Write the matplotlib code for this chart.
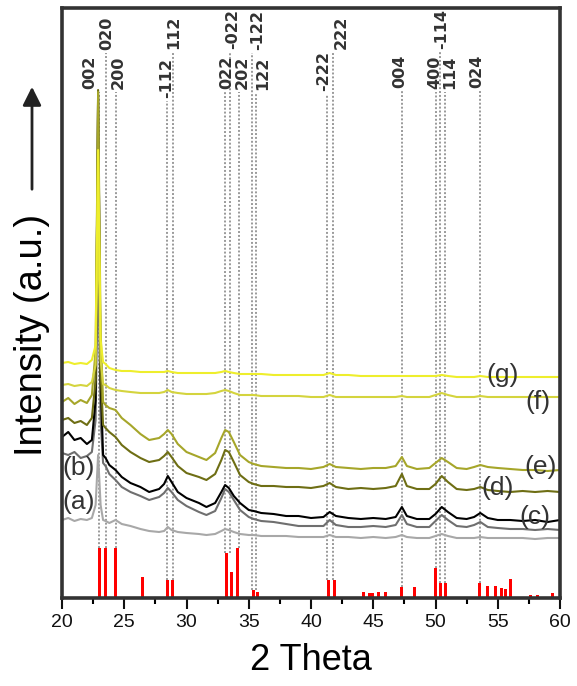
import matplotlib
matplotlib.use("Agg")
import matplotlib.pyplot as plt
from matplotlib.ticker import MultipleLocator
import numpy as np

plt.rcParams['font.family'] = ['Liberation Sans', 'DejaVu Sans']

# 2 theta positions shared by all patterns
two_theta = [20, 20.5, 21, 21.5, 22, 22.4, 22.7, 22.9, 23.1, 23.3, 23.5, 23.8, 24.3, 24.8,
             25.5, 26.3, 27.0, 27.8, 28.2, 28.5, 28.8, 29.3, 30.0, 31.0, 31.6, 32.3, 32.8,
             33.1, 33.4, 33.8, 34.3, 35.0, 35.4, 36.0, 37.0, 38.0, 39.0, 40.0, 41.0, 41.5,
             42.0, 43.0, 44.0, 45.0, 46.0, 46.8, 47.3, 47.7, 48.5, 49.5, 50.0, 50.5, 51.0,
             51.7, 52.5, 53.1, 53.6, 54.2, 55.0, 56.0, 57.0, 58.0, 59.0, 60.0]

# intensities (a.u., already stacked)
int_a = [78, 80, 77, 79, 78, 80, 93, 143, 93, 78, 77, 75, 78, 74, 72, 69, 67, 66, 67, 71,
         68, 66, 65, 64, 63, 64, 67, 69, 68, 66, 64, 63, 63, 62, 62, 62, 61, 61, 61, 63,
         61, 61, 60, 61, 60, 61, 63, 61, 60, 60, 62, 64, 62, 60, 60, 60, 61, 60, 60, 60,
         60, 59, 60, 60]
int_b = [145, 143, 146, 140, 142, 146, 178, 348, 178, 135, 132, 124, 118, 111, 106, 102,
         98, 101, 105, 110, 106, 98, 92, 86, 83, 87, 100, 109, 106, 98, 88, 81, 79, 77,
         76, 74, 72, 72, 72, 78, 73, 71, 71, 72, 71, 73, 83, 74, 71, 71, 77, 83, 78, 72,
         71, 73, 76, 71, 70, 69, 69, 68, 69, 68]
int_c = [161, 166, 158, 160, 154, 158, 198, 503, 218, 143, 140, 133, 128, 121, 115, 111,
         106, 109, 114, 122, 116, 106, 100, 95, 91, 95, 106, 113, 110, 102, 95, 88, 87,
         85, 84, 82, 82, 80, 81, 86, 82, 80, 79, 80, 79, 81, 91, 82, 79, 79, 84, 91, 86,
         80, 79, 81, 85, 80, 78, 78, 77, 78, 76, 78]
int_d = [178, 180, 175, 177, 173, 180, 218, 508, 228, 173, 170, 166, 161, 153, 146, 140,
         136, 138, 142, 146, 141, 132, 125, 121, 118, 124, 138, 148, 146, 136, 123, 116,
         114, 112, 112, 111, 111, 110, 112, 115, 111, 109, 110, 109, 110, 112, 124, 112,
         109, 109, 114, 122, 116, 109, 108, 109, 111, 108, 107, 106, 107, 106, 107, 106]
int_e = [196, 200, 194, 198, 195, 203, 248, 506, 268, 196, 193, 190, 188, 180, 173, 164,
         158, 160, 164, 168, 164, 154, 146, 141, 138, 145, 160, 168, 166, 156, 143, 136,
         134, 132, 131, 130, 130, 129, 131, 134, 131, 130, 129, 130, 130, 132, 141, 132,
         129, 130, 135, 140, 136, 130, 129, 131, 133, 131, 130, 129, 128, 128, 127, 128]
int_f = [213, 214, 212, 213, 212, 216, 233, 378, 238, 214, 213, 210, 208, 207, 206, 205,
         205, 205, 206, 208, 206, 205, 204, 204, 204, 205, 207, 208, 207, 205, 203, 203,
         203, 202, 202, 202, 202, 201, 201, 203, 201, 201, 201, 201, 201, 201, 202, 201,
         201, 201, 203, 205, 203, 201, 201, 201, 202, 201, 201, 201, 201, 201, 201, 201]
int_g = [235, 236, 234, 235, 234, 238, 253, 448, 258, 236, 234, 230, 228, 227, 227, 226,
         226, 226, 226, 227, 226, 225, 225, 225, 225, 225, 226, 227, 226, 225, 224, 224,
         224, 224, 223, 223, 223, 223, 223, 225, 223, 223, 222, 222, 222, 222, 222, 222,
         222, 222, 222, 223, 222, 221, 221, 221, 222, 221, 221, 221, 221, 221, 221, 221]

curve_labels = ['(a)', '(b)', '(c)', '(d)', '(e)', '(f)', '(g)']
curve_colors = ['#a8a8a8', '#6f6f6f', '#000000', '#6e6e14', '#a6a62a', '#d4d43e', '#eeee2c']

# reference pattern (red sticks)
ref_pos = [23.0, 23.5, 24.3, 26.5, 28.5, 28.9, 33.2, 33.6, 34.1, 35.4, 35.7, 41.4, 41.9,
           44.2, 44.7, 44.9, 45.4, 46.0, 47.3, 48.3, 50.0, 50.4, 50.8, 53.5, 54.2, 54.8,
           55.3, 55.6, 56.0, 57.6, 58.2, 59.4]
ref_int = [50, 50, 50, 21, 18, 18, 45, 26, 50, 8, 6, 18, 18, 6, 5, 5, 6, 6, 11, 11, 30,
           15, 15, 15, 12, 12, 10, 9, 19, 3, 3, 5]

# hkl indices
hkl = ['002', '020', '200', '-112', '112', '022', '-022', '202', '-122', '122', '-222',
       '222', '004', '400', '-114', '114', '024']
hkl_pos = [22.95, 23.5, 24.3, 28.45, 28.95, 33.1, 33.5, 34.2, 35.3, 35.6, 41.3, 41.8,
           47.3, 50.0, 50.4, 50.8, 53.6]

# label placement (x, bottom of text)
hkl_tx = [22.25, 23.6, 24.5, 28.43, 28.95, 33.2, 33.72, 34.45, 35.75, 36.1, 41.0, 42.4,
          47.15, 49.95, 50.5, 51.15, 53.3]
hkl_ty = [509, 548, 509, 500, 549, 509, 549, 509, 548, 508, 507, 549, 510, 509, 549, 509, 510]
lab_xy = [(21.3, 96), (21.3, 130), (58.0, 81), (55.0, 110), (58.4, 131), (58.2, 196), (55.4, 223)]

fig = plt.figure(figsize=(5.77, 6.86), dpi=100)
ax = fig.add_axes([62 / 577, 1 - 598 / 686, 498 / 577, 590 / 686])

ax.bar(ref_pos, ref_int, width=0.25, color='#ff0000', zorder=1)

for p, tx, ty, lab in zip(hkl_pos, hkl_tx, hkl_ty, hkl):
    near = [h for r, h in zip(ref_pos, ref_int) if abs(r - p) < 0.35]
    bottom = max(near) if near else 0
    ax.plot([p, p], [bottom, ty - 3], color='#9a9a9a', lw=1.4, ls=(0, (1, 1)), zorder=1.5)
    ax.text(tx, ty, lab, rotation=90, ha='center', va='bottom', fontsize=11.5,
            fontweight='bold', color='#333333', family='DejaVu Sans')

for ys, c in zip([int_a, int_b, int_c, int_d, int_e, int_f, int_g], curve_colors):
    ax.plot(two_theta, ys, color=c, lw=1.5, zorder=2)

for lab, (x, y) in zip(curve_labels, lab_xy):
    ax.text(x, y, lab, fontsize=19, color='#333333', ha='center', va='center',
            clip_on=True, zorder=3)

ax.set_xlim(20, 60)
ax.set_ylim(0, 590)
ax.set_yticks([])
ax.xaxis.set_major_locator(MultipleLocator(5))
ax.xaxis.set_minor_locator(MultipleLocator(2.5))
ax.tick_params(axis='x', which='major', direction='out', length=8, width=1.5,
               labelsize=14, colors='#111111')
ax.tick_params(axis='x', which='minor', direction='out', length=4, width=1.5)
for s in ax.spines.values():
    s.set_linewidth(2.6)
    s.set_color('#333333')
ax.set_xlabel('2 Theta', fontsize=26, labelpad=9)

fig.text(32 / 577, 1 - 335 / 686, 'Intensity (a.u.)', rotation=90, fontsize=27.5,
         ha='center', va='center')
fig.add_artist(matplotlib.patches.FancyArrowPatch(
    (32 / 577, 1 - 192 / 686), (32 / 577, 1 - 84 / 686), transform=fig.transFigure,
    arrowstyle='-|>', mutation_scale=28, lw=2, color='#222222'))

fig.savefig('out.png', dpi=100)
